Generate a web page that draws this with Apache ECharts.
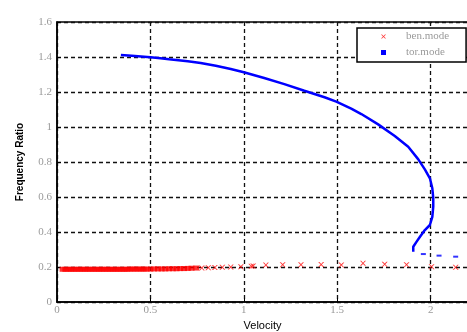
<!DOCTYPE html>
<html>
<head>
<meta charset="utf-8">
<script src="https://cdn.jsdelivr.net/npm/echarts@6/dist/echarts.min.js"></script>
<style>html,body{margin:0;padding:0;background:#fff;}#c{width:467px;height:332px;}</style>
</head>
<body>
<div id="c"></div>
<script>
// ---- data ----
var xTicks = [0, 0.5, 1, 1.5, 2];
var yTicks = [0, 0.2, 0.4, 0.6, 0.8, 1, 1.2, 1.4, 1.6];

var benX = [0.03,0.045,0.06,0.075,0.09,0.105,0.12,0.135,0.15,0.165,0.18,0.195,0.21,0.225,0.24,0.255,0.27,0.285,0.30,0.315,0.33,0.345,0.36,0.375,0.39,0.405,0.42,0.435,0.45,0.465,0.48,0.50,0.52,0.54,0.56,0.58,0.60,0.62,0.64,0.66,0.68,0.70,0.72,0.745,0.775,0.81,0.845,0.885,0.93,0.984,1.04,1.05,1.118,1.208,1.306,1.414,1.522,1.638,1.754,1.871,2.005,2.134];
var benY = [0.187,0.187,0.187,0.187,0.187,0.187,0.187,0.187,0.187,0.187,0.187,0.187,0.187,0.187,0.187,0.187,0.187,0.187,0.187,0.187,0.187,0.187,0.187,0.187,0.188,0.188,0.188,0.188,0.188,0.188,0.188,0.188,0.189,0.189,0.189,0.189,0.190,0.190,0.190,0.191,0.191,0.192,0.193,0.194,0.195,0.196,0.197,0.198,0.200,0.202,0.204,0.206,0.211,0.213,0.213,0.214,0.212,0.221,0.216,0.213,0.202,0.198];

var torX = [0.342,0.40,0.5,0.554,0.6,0.7,0.769,0.85,0.93,1.0,1.109,1.217,1.324,1.432,1.495,1.575,1.629,1.719,1.808,1.88,1.934,1.969,1.996,2.009,2.014,2.014,2.009,1.996,1.969,1.943,1.925,1.907,1.907];
var torY = [1.411,1.407,1.398,1.393,1.387,1.376,1.366,1.350,1.331,1.313,1.280,1.245,1.207,1.170,1.145,1.105,1.074,1.015,0.948,0.887,0.815,0.758,0.707,0.65,0.593,0.545,0.487,0.44,0.411,0.373,0.345,0.316,0.287];
var torTailX = [1.961,2.045,2.134];
var torTailY = [0.274,0.265,0.259];

var seriesNames = ['ben.mode', 'tor.mode'];
var axisNames = {x: 'Velocity', y: 'Frequency Ratio'};

function zip(a, b) { return a.map(function (v, i) { return [v, b[i]]; }); }

var crossPath = 'path://M0,0 L2,0 L5,3 L8,0 L10,0 L6,4 L10,8 L8,8 L5,5 L2,8 L0,8 L4,4 Z';
var tickFont = {color: '#9a9a9a', fontFamily: 'Liberation Serif', fontSize: 11};
var gridLine = {show: true, lineStyle: {color: '#111', width: 1.3, type: [4, 3]}};

var chart = echarts.init(document.getElementById('c'), null, {renderer: 'canvas'});
chart.setOption({
  animation: false,
  backgroundColor: '#fff',
  grid: {left: 57, top: 22, right: -1, bottom: 30, show: true, borderColor: '#000', borderWidth: 1.5,
         backgroundColor: 'transparent', containLabel: false, outerBoundsMode: 'none'},
  legend: {
    orient: 'vertical', left: 357, top: 28,
    padding: [3, 17, 4, 24], itemGap: 5, itemWidth: 5, itemHeight: 5,
    backgroundColor: '#fff', borderColor: '#000', borderWidth: 1.5,
    textStyle: {color: '#9a9a9a', fontFamily: 'Liberation Serif', fontSize: 11, padding: [0, 0, 0, 15]},
    data: [{name: seriesNames[0], icon: crossPath}, {name: seriesNames[1], icon: 'rect'}]
  },
  xAxis: {
    type: 'value', min: 0, max: 2.2, interval: 0.5,
    name: axisNames.x, nameLocation: 'middle', nameGap: 13,
    nameTextStyle: {color: '#000', fontFamily: 'Liberation Sans', fontSize: 11},
    axisLine: {show: true, onZero: false, lineStyle: {color: '#000', width: 1.5}},
    axisTick: {show: true, inside: true, length: 4, lineStyle: {color: '#000'}},
    axisLabel: Object.assign({margin: 3, showMaxLabel: false, formatter: function (v) { return xTicks.indexOf(v) >= 0 ? String(v) : ''; }}, tickFont),
    splitLine: gridLine
  },
  yAxis: {
    type: 'value', min: 0, max: 1.6, interval: 0.2,
    name: axisNames.y, nameLocation: 'middle', nameGap: 32,
    nameTextStyle: {color: '#000', fontFamily: 'Liberation Sans', fontSize: 10, fontWeight: 'bold'},
    axisLine: {show: true, onZero: false, lineStyle: {color: '#000', width: 1.5}},
    axisTick: {show: true, inside: true, length: 4, lineStyle: {color: '#000'}},
    axisLabel: Object.assign({margin: 5, formatter: function (v) { var r = Math.round(v * 10) / 10; return yTicks.indexOf(r) >= 0 ? String(r) : ''; }}, tickFont),
    splitLine: gridLine
  },
  series: [
    {
      name: seriesNames[0], type: 'scatter', data: zip(benX, benY),
      symbol: function (val) { return val[0] < 0.76 ? 'rect' : crossPath; },
      symbolSize: [6, 5],
      itemStyle: {color: '#ff0000'}, z: 3
    },
    {
      name: seriesNames[1], type: 'line', data: zip(torX, torY),
      showSymbol: false, symbol: 'none', lineStyle: {color: '#0000ff', width: 2.5}, itemStyle: {color: '#0000ff'}, z: 4
    },
    {
      name: seriesNames[1], type: 'scatter', data: zip(torTailX, torTailY),
      symbol: 'rect', symbolSize: [5, 2], itemStyle: {color: '#0000ff'}, z: 4
    }
  ]
});
</script>
</body>
</html>
